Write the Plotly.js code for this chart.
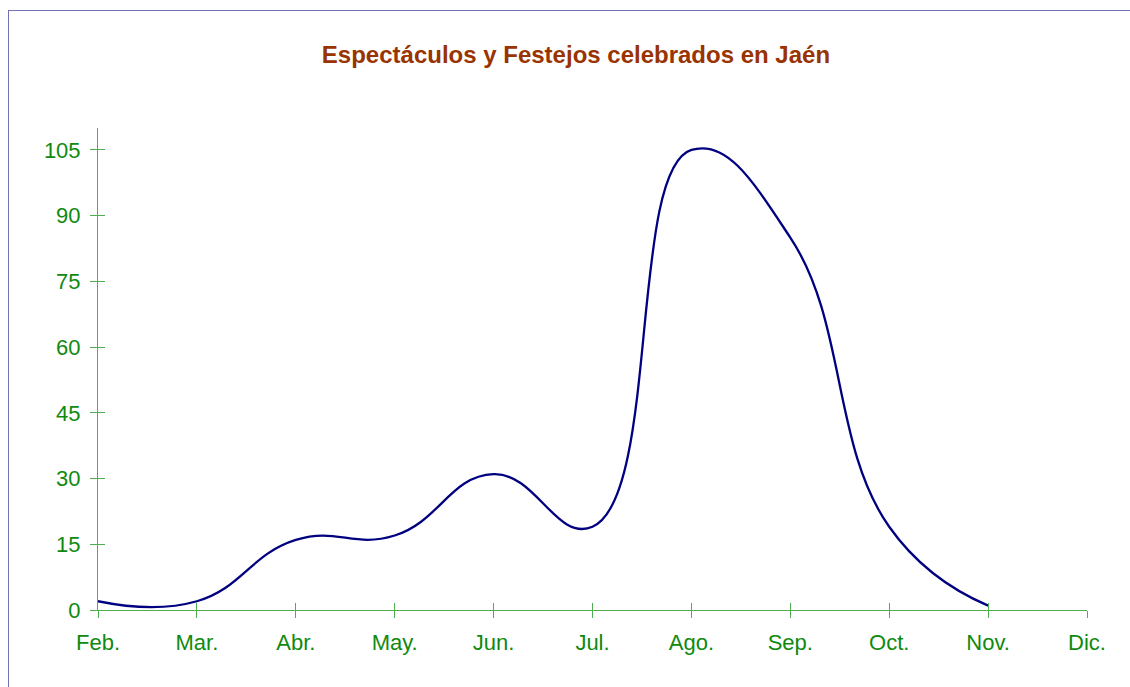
<!DOCTYPE html>
<html>
<head>
<meta charset="utf-8">
<script src="https://cdn.plot.ly/plotly-3.0.1.min.js"></script>
<style>
  html, body { margin: 0; padding: 0; background: #ffffff; }
  #chart { width: 1130px; height: 687px; }
  #frame { position: absolute; left: 8px; top: 10px; width: 1130px; height: 700px;
           border-left: 1px solid #7373b8; border-top: 1px solid #7373b8; pointer-events: none; }
</style>
</head>
<body>
<div id="chart"></div>
<div id="frame"></div>
<script>
const titleText = "Espectáculos y Festejos celebrados en Jaén";
const months = ["Feb.", "Mar.", "Abr.", "May.", "Jun.", "Jul.", "Ago.", "Sep.", "Oct.", "Nov.", "Dic."];
const festejos = [2, 2, 16, 17, 31, 19, 105, 85, 19, 1];
const yTicks = [0, 15, 30, 45, 60, 75, 90, 105];

const green = "#0f8a0f";
const axisGreen = "#4fae4f";
const font = "Liberation Sans, Arial, sans-serif";

const trace = {
  x: months.slice(0, festejos.length),
  y: festejos,
  type: "scatter",
  mode: "lines",
  line: { color: "#000080", width: 2.3, shape: "spline", smoothing: 1.3 },
  hoverinfo: "x+y"
};
const dummy = { x: [], y: [], xaxis: "x2", yaxis: "y2", type: "scatter", mode: "lines", showlegend: false };

const layout = {
  width: 1130, height: 687,
  margin: { l: 98, r: 43, t: 128, b: 77 },
  paper_bgcolor: "#ffffff", plot_bgcolor: "#ffffff",
  showlegend: false,
  font: { family: font, color: green, size: 22 },
  title: {
    text: "<b>" + titleText + "</b>",
    font: { family: font, size: 24, color: "#993300" },
    xref: "container", x: 0.5097, xanchor: "center",
    yref: "container", y: 1 - 55 / 687, yanchor: "middle"
  },
  xaxis: {
    type: "category", categoryorder: "array", categoryarray: months,
    range: [0, months.length - 1],
    tickmode: "array", tickvals: months, ticktext: months,
    showline: true, linecolor: axisGreen, linewidth: 1,
    ticks: "outside", ticklen: 7, tickcolor: axisGreen, tickwidth: 1,
    showgrid: false, zeroline: false,
    ticklabelstandoff: 6,
    tickfont: { family: font, size: 22, color: green }
  },
  yaxis: {
    range: [0, 110],
    tickmode: "array", tickvals: yTicks, ticktext: yTicks.map(String),
    showline: true, linecolor: axisGreen, linewidth: 1,
    ticks: "outside", ticklen: 7, tickcolor: axisGreen, tickwidth: 1,
    showgrid: false, zeroline: false,
    ticklabelstandoff: 5,
    tickfont: { family: font, size: 22, color: green }
  },
  xaxis2: {
    overlaying: "x", anchor: "y2", range: [0, months.length - 1],
    tickmode: "linear", tick0: 0, dtick: 1,
    ticks: "inside", ticklen: 7, tickcolor: axisGreen, tickwidth: 1,
    showticklabels: false, showline: false, showgrid: false, zeroline: false
  },
  yaxis2: {
    overlaying: "y", anchor: "x2", side: "left", range: [0, 110],
    tickmode: "array", tickvals: yTicks,
    ticks: "inside", ticklen: 7, tickcolor: axisGreen, tickwidth: 1,
    showticklabels: false, showline: false, showgrid: false, zeroline: false
  }
};

Plotly.newPlot("chart", [trace, dummy], layout, { displayModeBar: false, staticPlot: true });
</script>
</body>
</html>
